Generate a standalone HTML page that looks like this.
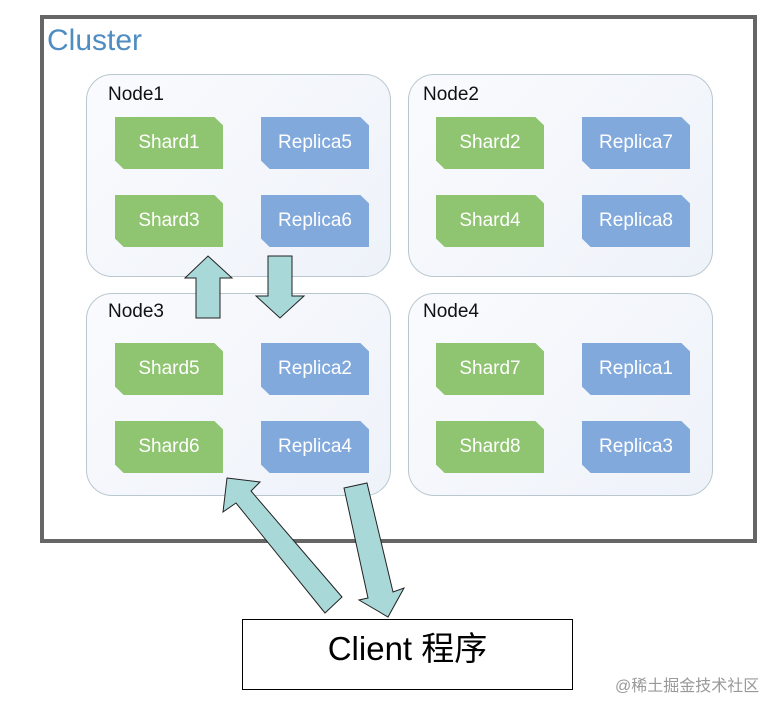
<!DOCTYPE html>
<html><head><meta charset="utf-8"><style>
body{margin:0;width:784px;height:710px;background:#fff;position:relative;overflow:hidden;font-family:"Liberation Sans","DejaVu Sans",sans-serif}
.abs{position:absolute}
.cluster{left:40px;top:15px;width:709px;height:520px;border:4px solid #666;background:#fff}
.ctitle{left:47px;top:24px;font-size:30px;color:#4e8cc2}
.node{width:303px;height:201px;border:1.5px solid #b9c8cf;border-radius:26px;background:linear-gradient(135deg,#fafbfe,#eef2f9)}
.nl{font-size:19px;color:#111}
.s{width:108px;height:52px;color:#fff;font-size:19px;display:flex;align-items:center;justify-content:center;clip-path:polygon(0 0,92% 0,100% 16%,100% 100%,8% 100%,0 84%)}
.g{background:#8fc471}.b{background:#82a9dc}
.client{left:242px;top:619px;width:329px;height:69px;border:1.5px solid #000;font-size:33px;text-align:center;line-height:58px;font-family:"Liberation Sans","Noto Sans CJK SC",sans-serif}
.wm{left:615px;top:672px;font-size:16px;color:#999;font-family:"Liberation Sans","Noto Sans CJK SC",sans-serif}
</style></head><body>
<div class="abs cluster"></div>
<div class="abs ctitle">Cluster</div>

<div class="abs node" style="left:86px;top:74px"></div>
<div class="abs node" style="left:408px;top:74px"></div>
<div class="abs node" style="left:86px;top:293px"></div>
<div class="abs node" style="left:408px;top:293px"></div>
<div class="abs nl" style="left:108px;top:84px">Node1</div>
<div class="abs nl" style="left:423px;top:84px">Node2</div>
<div class="abs nl" style="left:108px;top:301px">Node3</div>
<div class="abs nl" style="left:423px;top:301px">Node4</div>

<div class="abs s g" style="left:115px;top:117px">Shard1</div>
<div class="abs s b" style="left:261px;top:117px">Replica5</div>
<div class="abs s g" style="left:115px;top:195px">Shard3</div>
<div class="abs s b" style="left:261px;top:195px">Replica6</div>

<div class="abs s g" style="left:436px;top:117px">Shard2</div>
<div class="abs s b" style="left:582px;top:117px">Replica7</div>
<div class="abs s g" style="left:436px;top:195px">Shard4</div>
<div class="abs s b" style="left:582px;top:195px">Replica8</div>

<div class="abs s g" style="left:115px;top:343px">Shard5</div>
<div class="abs s b" style="left:261px;top:343px">Replica2</div>
<div class="abs s g" style="left:115px;top:421px">Shard6</div>
<div class="abs s b" style="left:261px;top:421px">Replica4</div>

<div class="abs s g" style="left:436px;top:343px">Shard7</div>
<div class="abs s b" style="left:582px;top:343px">Replica1</div>
<div class="abs s g" style="left:436px;top:421px">Shard8</div>
<div class="abs s b" style="left:582px;top:421px">Replica3</div>

<svg class="abs" style="left:0;top:0" width="784" height="710">
<g fill="#a9d8d8" stroke="#222" stroke-width="1">
<polygon points="208,256 232,278 220,278 220,318 196,318 196,278 185,278"/>
<polygon points="268,256 292,256 292,296 304,296 280,318 256,296 268,296"/>
<polygon points="227,478 260,482 251,491 342,597 325,613 236,503 223,512"/>
<polygon points="344,488 367,483 393,592 404,588 388,617 359,600 368,598"/>
</g>
</svg>

<div class="abs client">Client 程序</div>
<div class="abs wm">@稀土掘金技术社区</div>
</body></html>
